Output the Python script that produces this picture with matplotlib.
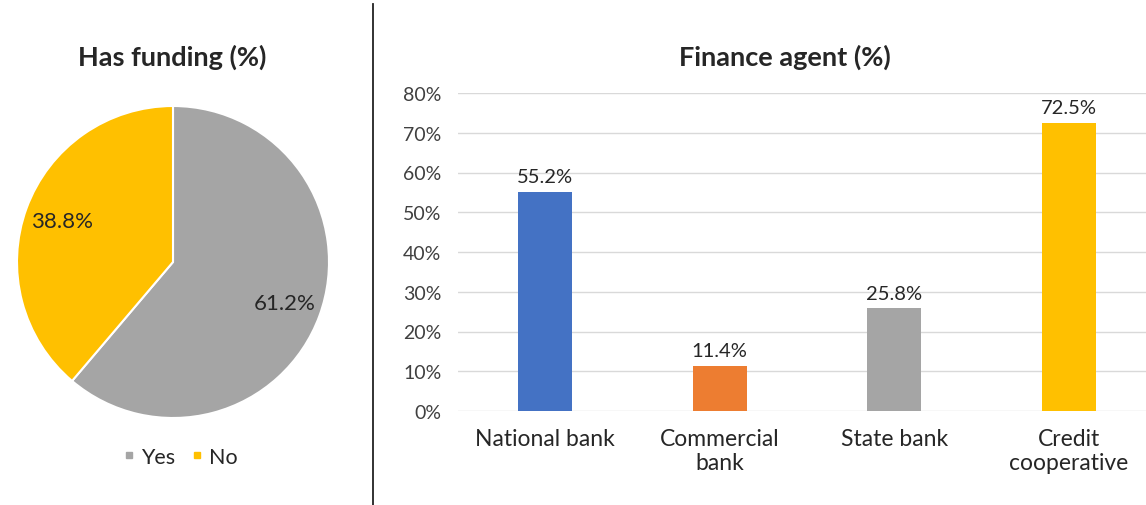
import matplotlib
matplotlib.use("Agg")
import matplotlib.pyplot as plt
from matplotlib.lines import Line2D

# Data
pie_labels = ["Yes", "No"]
pie_values = [61.2, 38.8]
pie_colors = ["#A5A5A5", "#FFC000"]

bar_labels = ["National bank", "Commercial\nbank", "State bank", "Credit\ncooperative"]
bar_values = [55.2, 11.4, 25.8, 72.5]
bar_colors = ["#4472C4", "#ED7D31", "#A5A5A5", "#FFC000"]
y_ticks = [0, 10, 20, 30, 40, 50, 60, 70, 80]

plt.rcParams["font.family"] = ["Lato", "DejaVu Sans"]
TXT = "#262626"
W, H = 1146, 506

fig = plt.figure(figsize=(W / 100, H / 100), dpi=100)

# ---- pie ----
cx, cy, r = 173, 263, 156
ax_p = fig.add_axes([(cx - r) / W, 1 - (cy + r) / H, 2 * r / W, 2 * r / H])
ax_p.pie(pie_values, colors=pie_colors, startangle=90, counterclock=False,
         autopct="%.1f%%", pctdistance=0.76,
         wedgeprops=dict(edgecolor="white", linewidth=1.5),
         textprops=dict(fontsize=16, color=TXT))
ax_p.set_xlim(-1, 1)
ax_p.set_ylim(-1, 1)
ax_p.set_aspect("equal")

fig.text(172 / W, 1 - 57 / H, "Has funding (%)", ha="center", va="center",
         fontsize=19.5, fontweight="bold", color=TXT)

handles = [Line2D([], [], marker="s", linestyle="none", markersize=5,
                  color=c, label=l) for c, l in zip(pie_colors, pie_labels)]
fig.legend(handles=handles, loc="center", bbox_to_anchor=(179 / W, 1 - 458 / H),
           ncol=2, frameon=False, fontsize=15.5, handletextpad=0.15,
           columnspacing=0.6, handlelength=0.8, labelcolor=TXT)

# divider
fig.add_artist(Line2D([373 / W, 373 / W], [0, 1 - 5 / H], color="#222222",
                      linewidth=1.3))

# ---- bars ----
left, right = 458, 1146
top, bottom = 94, 412
step = 174.5
ax_b = fig.add_axes([left / W, 1 - bottom / H, (right - left) / W, (bottom - top) / H])
x = list(range(len(bar_values)))
ax_b.bar(x, bar_values, width=54 / step, color=bar_colors, zorder=3)
ax_b.set_xlim(-0.5, -0.5 + (right - left) / step)
ax_b.set_ylim(0, 80)
ax_b.set_yticks(y_ticks)
ax_b.set_yticklabels([f"{v}%" for v in y_ticks])
ax_b.set_xticks(x)
ax_b.set_xticklabels(bar_labels, linespacing=1.2)
ax_b.tick_params(axis="y", length=0, pad=12, labelsize=14, labelcolor="#404040")
ax_b.tick_params(axis="x", length=0, pad=12, labelsize=16.5, labelcolor=TXT)
ax_b.grid(axis="y", color="#D9D9D9", linewidth=1.0, zorder=0)
for s in ax_b.spines.values():
    s.set_visible(False)
for xi, v in zip(x, bar_values):
    ax_b.annotate(f"{v:.1f}%", (xi, v), xytext=(0, 5), textcoords="offset points",
                  ha="center", va="bottom", fontsize=14.5, color=TXT)

fig.text(785 / W, 1 - 57 / H, "Finance agent (%)", ha="center", va="center",
         fontsize=19.5, fontweight="bold", color=TXT)

fig.savefig("out.png", dpi=100)
